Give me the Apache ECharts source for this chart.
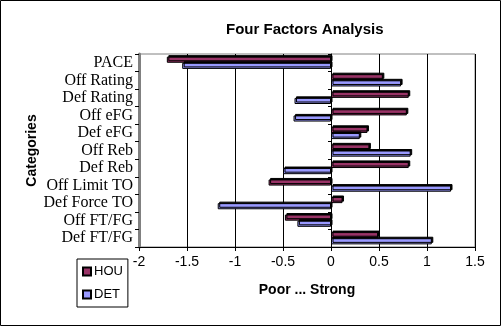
<!DOCTYPE html>
<html>
<head>
<meta charset="utf-8">
<script src="https://cdn.jsdelivr.net/npm/echarts@6/dist/echarts.min.js"></script>
<style>html,body{margin:0;padding:0;background:#fff}#c{width:501px;height:326px}</style>
</head>
<body>
<div id="c"></div>
<script>
const categories = ['PACE','Off Rating','Def Rating','Off eFG','Def eFG','Off Reb','Def Reb','Off Limit TO','Def Force TO','Off FT/FG','Def FT/FG'];
const houValues = [-1.71, 0.54, 0.81, 0.79, 0.38, 0.40, 0.81, -0.65, 0.12, -0.48, 0.49];
const detValues = [-1.55, 0.73, -0.38, -0.39, 0.30, 0.83, -0.50, 1.25, -1.18, -0.35, 1.05];
const xTicks = {min: -2, max: 1.5, interval: 0.5};

const chart = echarts.init(document.getElementById('c'), null, {renderer: 'canvas'});
const barStyle = (color) => ({
  color: color,
  borderColor: '#000',
  borderWidth: 1,
  shadowColor: '#000',
  shadowBlur: 0,
  shadowOffsetX: 1.5,
  shadowOffsetY: -1.5
});
chart.setOption({
  animation: false,
  backgroundColor: '#fff',
  title: {
    text: 'Four Factors Analysis',
    left: 221, top: 17,
    textStyle: {fontFamily: 'Liberation Sans, Arial', fontSize: 15, fontWeight: 'bold', color: '#000'}
  },
  legend: {
    orient: 'vertical',
    left: 77, top: 259,
    padding: [6, 5, 6, 5],
    itemWidth: 8, itemHeight: 8, itemGap: 10,
    borderColor: '#000', borderWidth: 1,
    icon: 'rect',
    textStyle: {fontFamily: 'Liberation Sans, Arial', fontSize: 13, color: '#000', padding: [0, 0, 0, -2]},
    data: ['HOU', 'DET']
  },
  grid: {
    left: 139, right: 26, top: 54, bottom: 79,
    show: true, borderColor: '#808080', borderWidth: 1, backgroundColor: '#fff'
  },
  xAxis: {
    type: 'value',
    min: xTicks.min, max: xTicks.max, interval: xTicks.interval,
    name: 'Poor ... Strong',
    nameLocation: 'middle', nameGap: 36, nameMoveOverlap: false,
    nameTextStyle: {fontFamily: 'Liberation Sans, Arial', fontSize: 14, fontWeight: 'bold', color: '#000'},
    axisLine: {show: true, onZero: false, lineStyle: {color: '#000', width: 1}},
    axisTick: {show: true, length: 4, lineStyle: {color: '#000'}},
    axisLabel: {fontFamily: 'Liberation Sans, Arial', fontSize: 14, color: '#000', margin: 8},
    splitLine: {show: true, lineStyle: {color: '#000', width: 1}}
  },
  yAxis: [{
    type: 'category',
    data: categories,
    inverse: true,
    position: 'left',
    name: 'Categories',
    nameLocation: 'middle', nameRotate: 90, nameGap: 100, nameMoveOverlap: false,
    nameTextStyle: {fontFamily: 'Liberation Sans, Arial', fontSize: 14, fontWeight: 'bold', color: '#000'},
    axisLine: {show: true, onZero: false, lineStyle: {color: '#808080', width: 3}},
    axisTick: {show: true, length: 4, lineStyle: {color: '#000'}},
    axisLabel: {interval: 0, fontFamily: 'Liberation Serif, Times New Roman', fontSize: 16, color: '#000', margin: 6},
    splitLine: {show: false}
  }, {
    type: 'category',
    data: categories,
    inverse: true,
    position: 'left',
    axisLine: {show: true, onZero: true, lineStyle: {color: '#000', width: 1}},
    axisTick: {show: true, length: 3, lineStyle: {color: '#000'}},
    axisLabel: {show: false},
    splitLine: {show: false}
  }],
  series: [{
    name: 'HOU', type: 'bar', data: houValues,
    barGap: '0%', barCategoryGap: '30%',
    itemStyle: barStyle('#993366')
  }, {
    name: 'DET', type: 'bar', data: detValues,
    barGap: '0%', barCategoryGap: '30%',
    itemStyle: barStyle('#9999FF')
  }],
  graphic: [{
    type: 'rect', silent: true, z: 100,
    shape: {x: 0.5, y: 0.5, width: 500, height: 325},
    style: {fill: 'none', stroke: '#000', lineWidth: 1}
  }]
});
</script>
</body>
</html>
